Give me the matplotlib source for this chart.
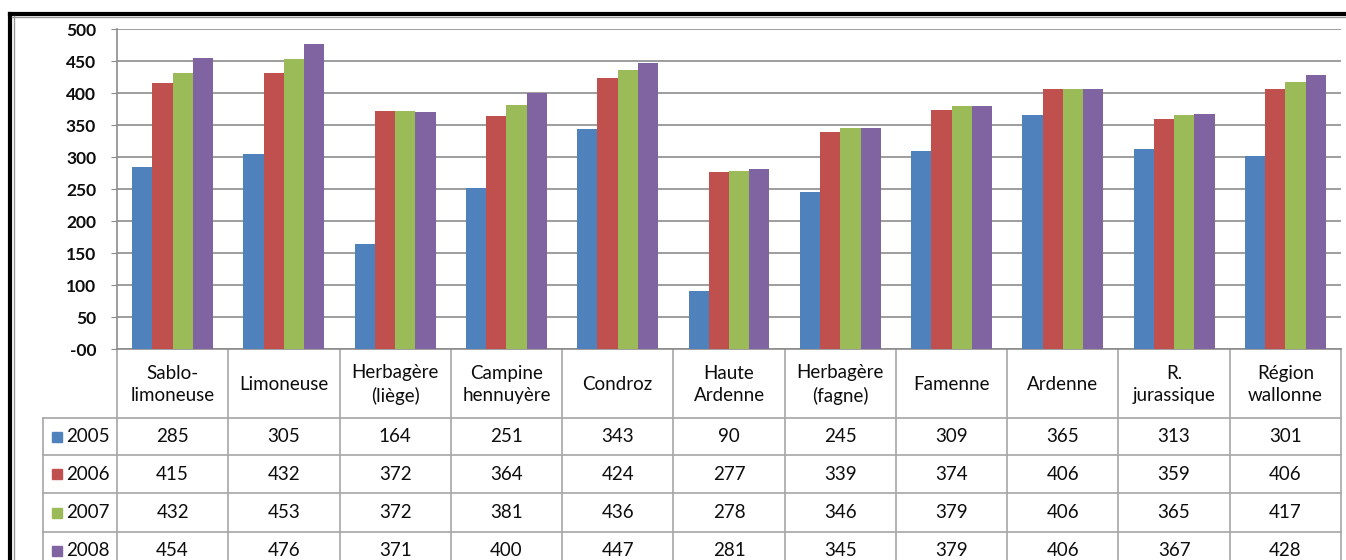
import matplotlib
matplotlib.use("Agg")
import matplotlib.pyplot as plt
from matplotlib.lines import Line2D
from matplotlib.patches import Rectangle
from matplotlib.transforms import blended_transform_factory
import numpy as np

plt.rcParams['font.family'] = ['Lato', 'DejaVu Sans']

categories = ["Sablo-\nlimoneuse", "Limoneuse", "Herbagère\n(liège)", "Campine\nhennuyère",
              "Condroz", "Haute\nArdenne", "Herbagère\n(fagne)", "Famenne", "Ardenne",
              "R.\njurassique", "Région\nwallonne"]
years = ["2005", "2006", "2007", "2008"]
v2005 = [285, 305, 164, 251, 343, 90, 245, 309, 365, 313, 301]
v2006 = [415, 432, 372, 364, 424, 277, 339, 374, 406, 359, 406]
v2007 = [432, 453, 372, 381, 436, 278, 346, 379, 406, 365, 417]
v2008 = [454, 476, 371, 400, 447, 281, 345, 379, 406, 367, 428]
series = [v2005, v2006, v2007, v2008]
colors = ["#4F81BD", "#C0504D", "#9BBB59", "#8064A2"]
yticks = [0, 50, 100, 150, 200, 250, 300, 350, 400, 450, 500]
ytick_labels = ["-00", "50", "100", "150", "200", "250", "300", "350", "400", "450", "500"]

TXT = "#0d0d0d"
W, H = 1346, 560
fig = plt.figure(figsize=(W / 100, H / 100), dpi=100)

# full-figure overlay in pixel units for the frame and data table
ov = fig.add_axes([0, 0, 1, 1], zorder=0)
ov.set_xlim(0, W)
ov.set_ylim(H, 0)
ov.axis("off")

left_px, right_px, top_px, base_px = 117, 1341, 29, 349
ax = fig.add_axes([left_px / W, 1 - base_px / H, (right_px - left_px) / W, (base_px - top_px) / H], zorder=2)
ax.patch.set_alpha(0)

n = len(categories)
x = np.arange(n)
bw = 1 / 5.5
for i, (vals, c) in enumerate(zip(series, colors)):
    ax.bar(x + (i - 1.5) * bw, vals, width=bw, color=c, edgecolor="none", zorder=3)

ax.set_xlim(-0.5, n - 0.5)
ax.set_ylim(0, 500)
ax.set_yticks(yticks)
ax.set_yticklabels(ytick_labels, fontsize=12.5, fontweight="bold")
ax.yaxis.grid(True, color="#8c8c8c", linewidth=1.2, zorder=0)
ax.set_axisbelow(True)
ax.set_xticks([])
for s in ["top", "right"]:
    ax.spines[s].set_visible(False)
ax.spines["left"].set_color("#8c8c8c")
ax.spines["bottom"].set_color("#8c8c8c")
ax.spines["left"].set_linewidth(1.2)
ax.spines["bottom"].set_linewidth(1.2)
ax.tick_params(axis="y", length=4, color="#8c8c8c", pad=11, labelcolor=TXT)

# data table below the plot area
tr = blended_transform_factory(ax.transData, ov.transData)
grid_c = "#a6a6a6"
row_tops = [349, 418, 455, 493, 532]
row_bottom = 560
leg_left = 43
edges = np.arange(n + 1) - 0.5

# vertical column separators
for e in edges:
    ov.add_line(Line2D([e, e], [349, row_bottom], transform=tr, color=grid_c, lw=1.2))
# legend column border
ov.add_line(Line2D([leg_left, leg_left], [418, row_bottom], color=grid_c, lw=1.2))
# horizontal lines of the value rows
for y in row_tops[1:]:
    ov.add_line(Line2D([leg_left, right_px], [y, y], color=grid_c, lw=1.2))

# header labels
for i, lab in enumerate(categories):
    ov.text(i, (349 + 418) / 2 + 1, lab, transform=tr, ha="center", va="center",
            fontsize=13.5, color=TXT, linespacing=1.35)

# value rows with legend keys
for r, (yr, vals, c) in enumerate(zip(years, series, colors)):
    yc = (row_tops[r + 1] + (row_tops[r + 2] if r + 2 < len(row_tops) else 569)) / 2
    ov.add_patch(Rectangle((52, yc - 5), 10, 10, color=c))
    ov.text(66, yc, yr, ha="left", va="center", fontsize=13.5, color=TXT)
    for i, v in enumerate(vals):
        ov.text(i, yc, str(v), transform=tr, ha="center", va="center",
                fontsize=13.5, color=TXT)

# outer frame
ov.add_line(Line2D([10, W], [14, 14], color="black", lw=3))
ov.add_line(Line2D([10, 10], [14, H], color="black", lw=3))
ov.add_line(Line2D([13.5, 13.5], [16, H], color="#9a9a9a", lw=1))
ov.add_line(Line2D([12, W], [16.5, 16.5], color="#9a9a9a", lw=1))

fig.savefig("out.png", dpi=100)
